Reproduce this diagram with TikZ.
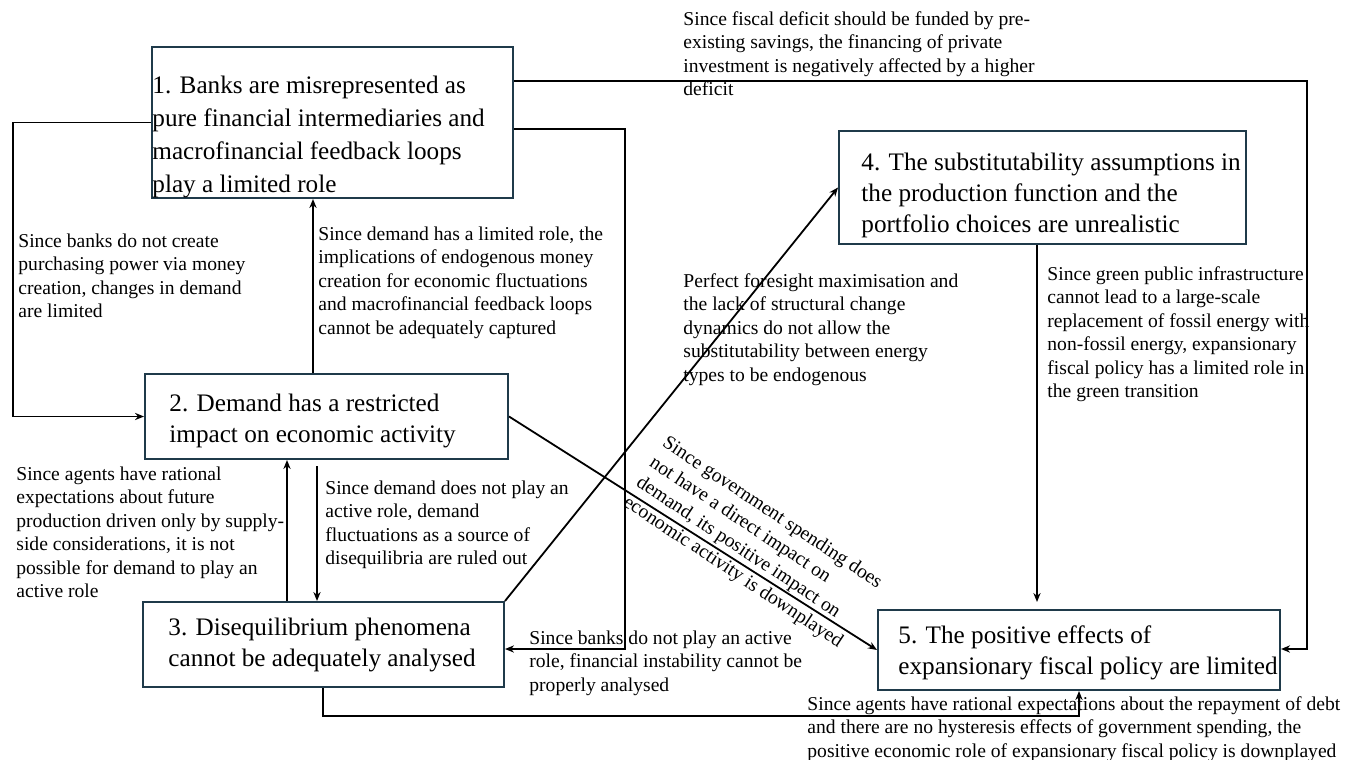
\documentclass[tikz,border=0pt]{standalone}
\usepackage{fontspec}
\setmainfont{Liberation Serif}
\usepackage{tikz}
\usetikzlibrary{arrows.meta}
\definecolor{cbox}{HTML}{1F3A4A}
\tikzset{
  box/.style={rectangle, draw=cbox, line width=1pt, inner sep=0pt},
  claim/.style={anchor=west, align=left, inner sep=0pt,
                font=\fontsize{12.6}{15.5}\selectfont},
  note/.style={anchor=north west, inner sep=0pt, align=left,
               font=\fontsize{9.8}{11.75}\selectfont},
  flow/.style={-{Stealth[length=4.5pt,width=3.6pt]}, line width=0.9pt}
}

\begin{document}
\begin{tikzpicture}[x=0.5pt, y=-0.5pt]
\useasboundingbox (0,0) rectangle (1356,760);
% the five claims
\node[box, minimum width=180.5pt, minimum height=75.5pt,
      label={[claim, name=t1, xshift=0.5pt, yshift=-7pt, font=\fontsize{12.6}{16.5}\selectfont]west:{1. Banks are misrepresented as\\pure financial intermediaries and\\macrofinancial feedback loops\\play a limited role}}] (b1) at (332.5,122.5) {};
\node[box, minimum width=181.5pt, minimum height=42.5pt,
      label={[claim, name=t2, xshift=12.5pt, yshift=-2pt]west:{2. Demand has a restricted\\impact on economic activity}}] (b2) at (326.5,416.5) {};
\node[box, minimum width=180.5pt, minimum height=42.5pt,
      label={[claim, name=t3, xshift=13pt]west:{3. Disequilibrium phenomena\\cannot be adequately analysed}}] (b3) at (323.5,644.5) {};
\node[box, minimum width=203.5pt, minimum height=56.5pt,
      label={[claim, name=t4, xshift=11.5pt, yshift=-4pt]west:{4. The substitutability assumptions in\\the production function and the\\portfolio choices are unrealistic}}] (b4) at (1042.5,187.5) {};
\node[box, minimum width=201pt, minimum height=40pt,
      label={[claim, name=t5, xshift=10.5pt, yshift=-1.5pt]west:{5. The positive effects of\\expansionary fiscal policy are limited}}] (b5) at (1079,650) {};

% links
\draw[flow] (b1.west) -- (13,122.5) |- (b2.west);
\draw[flow] (b2.north -| 313,0) -- (b1.south -| 313,0);
\draw[flow] (b1.east |- 0,129) -| (625,649) -- (b3.east |- 0,649);
\draw[flow] (b1.east |- 0,81) -| (1307,649) -- (b5.east |- 0,649);
\draw[flow] (b3.north -| 287,0) -- (b2.south -| 287,0);
\draw[flow, shorten <=3pt] (b2.south -| 317,0) -- (b3.north -| 317,0);
\draw[flow] (b3.north east) -- (b4.west);
\draw[flow] (b2.east) -- (b5.west);
\draw[flow, shorten >=3.5pt] (b4.south -| 1037,0) -- (b5.north -| 1037,0);
\draw[flow] (b3.south -| 323,0) |- (1079,716) -- (b5.south -| 1079,0);

% reasons
\node[note] (n1) at (18,233) {Since banks do not create\\purchasing power via money\\creation, changes in demand\\are limited};
\node[note] (n2) at (318,226) {Since demand has a limited role, the\\implications of endogenous money\\creation for economic fluctuations\\and macrofinancial feedback loops\\cannot be adequately captured};
\node[note] (n3) at (529,630) {Since banks do not play an active\\role, financial instability cannot be\\properly analysed};
\node[note] (n4) at (683,11) {Since fiscal deficit should be funded by pre-\\existing savings, the financing of private\\investment is negatively affected by a higher\\deficit};
\node[note] (n5) at (16,466) {Since agents have rational\\expectations about future\\production driven only by supply-\\side considerations, it is not\\possible for demand to play an\\active role};
\node[note] (n6) at (325,480) {Since demand does not play an\\active role, demand\\fluctuations as a source of\\disequilibria are ruled out};
\node[note] (n7) at (683,273) {Perfect foresight maximisation and\\the lack of structural change\\dynamics do not allow the\\substitutability between energy\\types to be endogenous};
\node[note, rotate=-33.5, font=\fontsize{9.8}{11.85}\selectfont] (n8) at (669,434) {Since government spending does\\not have a direct impact on\\demand, its positive impact on\\economic activity is downplayed};
\node[note] (n9) at (1047,266) {Since green public infrastructure\\cannot lead to a large-scale\\replacement of fossil energy with\\non-fossil energy, expansionary\\fiscal policy has a limited role in\\the green transition};
\node[note] (n10) at (807,696) {Since agents have rational expectations about the repayment of debt\\and there are no hysteresis effects of government spending, the\\positive economic role of expansionary fiscal policy is downplayed};
\end{tikzpicture}
\end{document}
